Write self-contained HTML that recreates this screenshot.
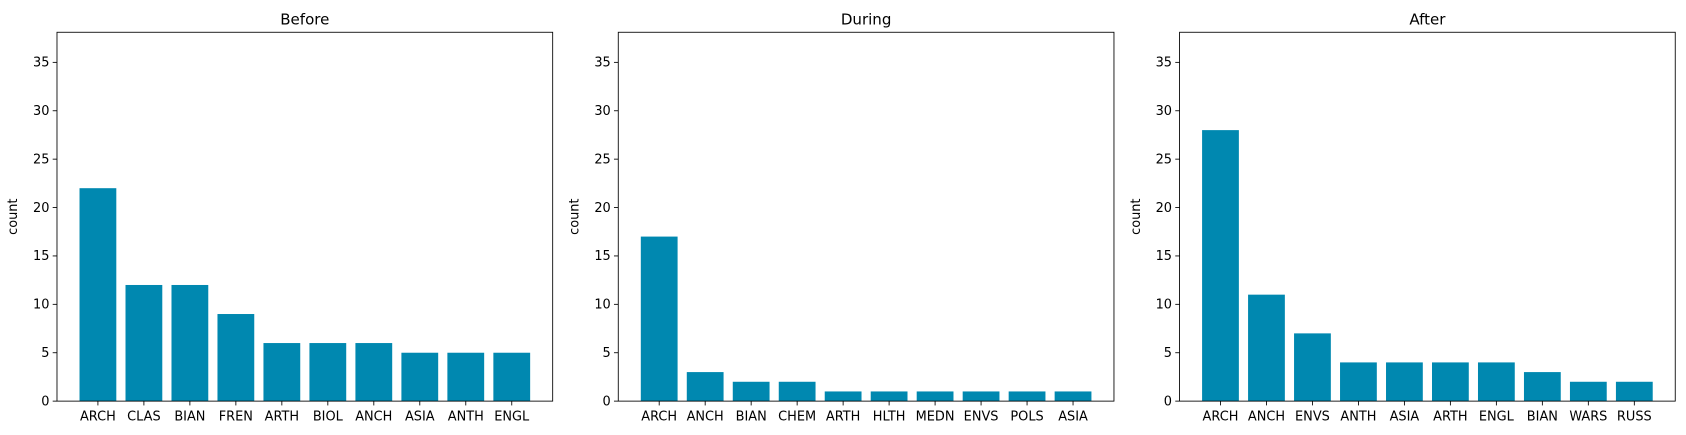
<!DOCTYPE html>
<html><head><meta charset="utf-8"><style>
body{margin:0;background:#fff;font-family:"Liberation Sans","DejaVu Sans",sans-serif}
svg{display:block}
svg text{font-family:"DejaVu Sans","Liberation Sans",sans-serif}
</style></head><body>
<svg id="chart" width="1686" height="435" viewBox="0 0 1568 404.5" preserveAspectRatio="none" xmlns="http://www.w3.org/2000/svg"></svg>
<script>
const titles=["Before","During","After"];
const cats0=["ARCH","CLAS","BIAN","FREN","ARTH","BIOL","ANCH","ASIA","ANTH","ENGL"];
const vals0=[22,12,12,9,6,6,6,5,5,5];
const cats1=["ARCH","ANCH","BIAN","CHEM","ARTH","HLTH","MEDN","ENVS","POLS","ASIA"];
const vals1=[17,3,2,2,1,1,1,1,1,1];
const cats2=["ARCH","ANCH","ENVS","ANTH","ASIA","ARTH","ENGL","BIAN","WARS","RUSS"];
const vals2=[28,11,7,4,4,4,4,3,2,2];
const yTicks=[0,5,10,15,20,25,30,35];
const panels=[[cats0,vals0],[cats1,vals1],[cats2,vals2]];
const lefts=[53,575,1097];
const W=461,axTop=30,axBot=373,ymax=38.11;
const svg=document.getElementById('chart');
const NS="http://www.w3.org/2000/svg";
function mk(t,a,p){const e=document.createElementNS(NS,t);for(const k in a)e.setAttribute(k,a[k]);(p||svg).appendChild(e);return e;}
panels.forEach((pd,pi)=>{
  const [cats,vals]=pd;const L=lefts[pi];
  const n=cats.length;const x0=-0.4-0.049*n, x1=n-1+0.4+0.049*n;
  const xs=v=>L+(v-x0)/(x1-x0)*W;
  const ys=v=>axBot-v/ymax*(axBot-axTop);
  const g=mk('g',{});
  
  
  vals.forEach((v,i)=>{
    const r=mk('rect',{x:xs(i-0.4),y:ys(v),width:xs(i+0.4)-xs(i-0.4),height:axBot-ys(v),fill:'#0088b0'},g);
    
    
    mk('line',{x1:xs(i),x2:xs(i),y1:axBot,y2:axBot+4,stroke:'#000','stroke-width':0.8},g);
    const t=mk('text',{x:xs(i),y:axBot+18,'text-anchor':'middle','font-size':12},g);
    t.textContent=cats[i];
    
    
  });
  yTicks.forEach(v=>{
    mk('line',{x1:L-4,x2:L,y1:ys(v),y2:ys(v),stroke:'#000','stroke-width':0.8},g);
    const t=mk('text',{x:L-7,y:ys(v)+4,'text-anchor':'end','font-size':12},g);
    t.textContent=v;
    
    
  });
  const fr=mk('rect',{x:L,y:axTop,width:W,height:axBot-axTop,fill:'none',stroke:'#000','stroke-width':0.8},g);
  
  
  const tt=mk('text',{x:L+W/2,y:axTop-7,'text-anchor':'middle','font-size':14},g);
  tt.textContent=titles[pi];
  
  
  const yl=mk('text',{x:0,y:0,'text-anchor':'middle','font-size':12,transform:`translate(${L-37},${(axTop+axBot)/2}) rotate(-90)`},g);
  yl.textContent='count';
  
  
});
</script>
</body></html>
